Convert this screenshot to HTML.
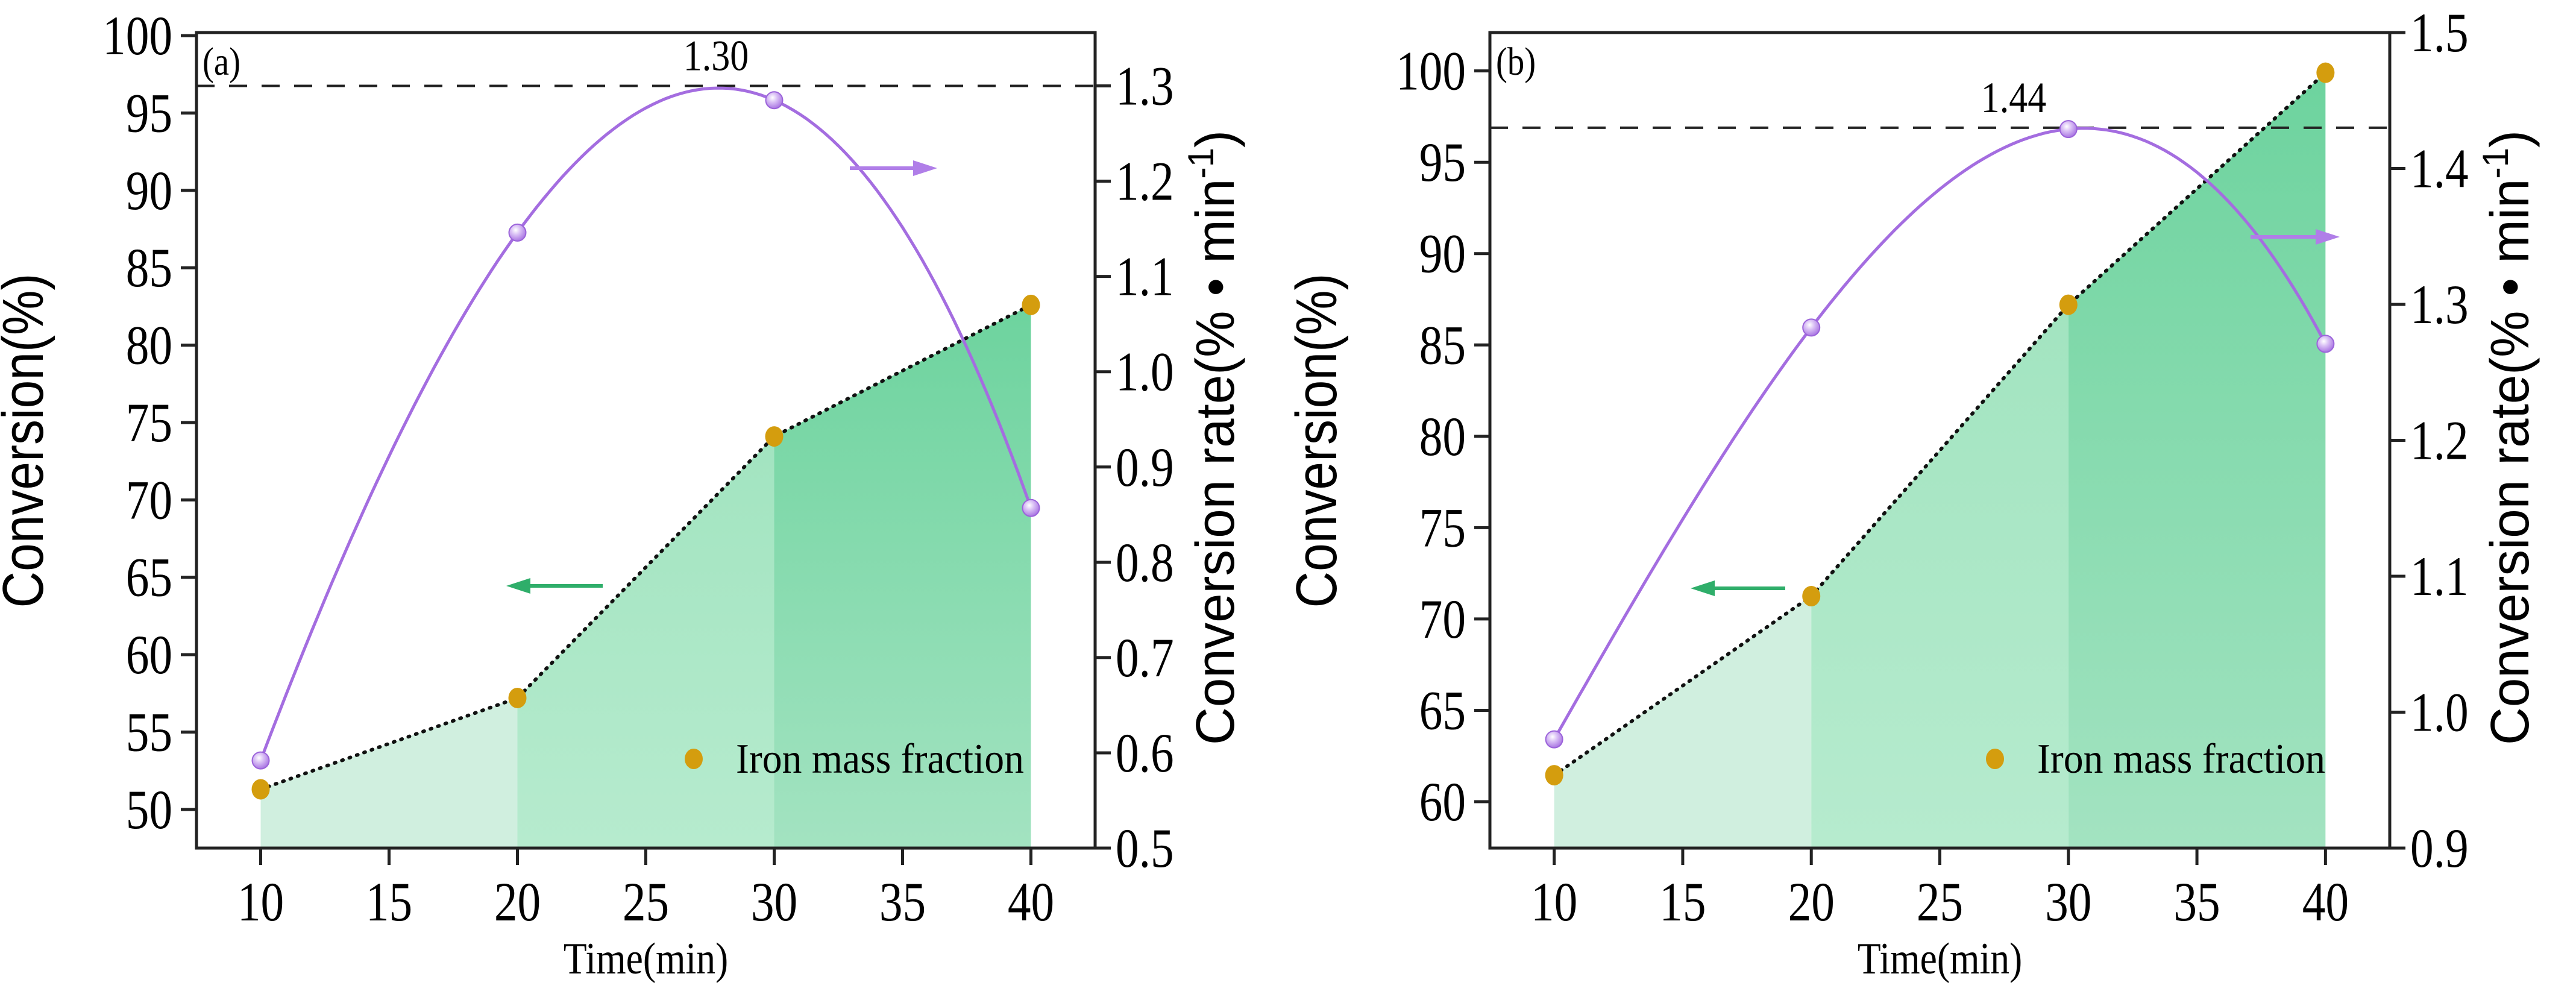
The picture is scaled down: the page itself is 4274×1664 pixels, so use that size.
<!DOCTYPE html>
<html><head><meta charset="utf-8"><style>
html,body{margin:0;padding:0;background:#fff;}
svg{display:block;}
.serif{font-family:"Liberation Serif",serif;}
.sans{font-family:"Liberation Sans",sans-serif;}
</style></head><body>
<svg id="fig" width="4274" height="1664" viewBox="0 0 4274 1664" xmlns="http://www.w3.org/2000/svg">
<defs>
<linearGradient id="g3" x1="0" y1="0" x2="0" y2="1"><stop offset="0" stop-color="#6dd39e"/><stop offset="1" stop-color="#a3e3c1"/></linearGradient>
<linearGradient id="g2" x1="0" y1="0" x2="0" y2="1"><stop offset="0" stop-color="#a2e4c0"/><stop offset="1" stop-color="#b6ebce"/></linearGradient>
<radialGradient id="sph" cx="0.4" cy="0.35" r="0.7"><stop offset="0" stop-color="#ffffff"/><stop offset="0.4" stop-color="#d9bff5"/><stop offset="1" stop-color="#a46de0"/></radialGradient>
</defs>
</svg>
<script>
const timeCats = [10, 20, 30, 40];
const xTicks = [10, 15, 20, 25, 30, 35, 40];
const convA = [51.3, 57.2, 74.1, 82.6];
const rateA = [0.592, 1.146, 1.285, 0.857];
const leftTicksA = [50, 55, 60, 65, 70, 75, 80, 85, 90, 95, 100];
const rightTicksA = ["0.5","0.6","0.7","0.8","0.9","1.0","1.1","1.2","1.3"];
const peakA = 1.30;
const peakLabelA = "1.30";
const convB = [61.45, 71.25, 87.2, 99.9];
const rateB = [0.98, 1.283, 1.429, 1.271];
const leftTicksB = [60, 65, 70, 75, 80, 85, 90, 95, 100];
const rightTicksB = ["0.9","1.0","1.1","1.2","1.3","1.4","1.5"];
const peakB = 1.43;
const peakLabelB = "1.44";

const NS = "http://www.w3.org/2000/svg";
const svg = document.getElementById('fig');
function mk(tag, attrs, parent, txt){
  const e = document.createElementNS(NS, tag);
  for (const k in attrs) e.setAttribute(k, attrs[k]);
  if (txt !== undefined) e.textContent = txt;
  (parent||svg).appendChild(e);
  return e;
}
function squeeze(el, f){
  const w = el.getComputedTextLength();
  if (w > 0){ el.setAttribute('textLength', (w*f).toFixed(1)); el.setAttribute('lengthAdjust','spacingAndGlyphs'); }
}
function lagrange(xs, ys, x){
  let s=0;
  for(let i=0;i<xs.length;i++){let p=ys[i];for(let j=0;j<xs.length;j++){if(j!==i)p*=(x-xs[j])/(xs[i]-xs[j]);}s+=p;}
  return s;
}
function panel(cfg){
  const g = mk('g', {});
  
  
  const L=cfg.left,R=cfg.right,T=54,B=1407;
  const sx = v => L + (v-7.5)/(42.5-7.5)*(R-L);
  const sy = v => B - (v-cfg.yMin)/(cfg.yMax-cfg.yMin)*(B-T);
  const sr = v => B - (v-cfg.rMin)/(cfg.rMax-cfg.rMin)*(B-T);
  const fills=['#d0efdf','url(#g2)','url(#g3)'];
  for(let i=0;i<timeCats.length-1;i++){
    const p = mk('polygon',{points:`${sx(timeCats[i])},${B} ${sx(timeCats[i])},${sy(cfg.conv[i])} ${sx(timeCats[i+1])},${sy(cfg.conv[i+1])} ${sx(timeCats[i+1])},${B}`,fill:fills[i]},g);
    
    
  }
  const dl = mk('polyline',{points:timeCats.map((t,i)=>`${sx(t)},${sy(cfg.conv[i])}`).join(' '),fill:'none',stroke:'#111','stroke-width':6,'stroke-dasharray':'2 11','stroke-linecap':'round'},g);
  
  
  const dh = mk('line',{x1:L,x2:R,y1:sr(cfg.peak),y2:sr(cfg.peak),stroke:'#222','stroke-width':4,'stroke-dasharray':'30 24'},g);
  
  
  let d='';
  for(let t=10;t<=40.001;t+=0.25){d+=(t===10?'M':'L')+sx(t).toFixed(1)+','+sr(lagrange(timeCats,cfg.rate,t)).toFixed(1);}
  const cv = mk('path',{d:d,fill:'none',stroke:'#a46de0','stroke-width':5},g);
  
  
  cfg.rate.forEach((r,i)=>{
    const c = mk('circle',{cx:sx(timeCats[i]),cy:sr(r),r:14,fill:'url(#sph)',stroke:'#9b63da','stroke-width':2},g);
    
    
  });
  cfg.conv.forEach((v,i)=>{
    const c = mk('ellipse',{cx:sx(timeCats[i]),cy:sy(v),rx:15,ry:17,fill:'#d49d0e'},g);
    
    
  });
  const box = mk('rect',{x:L,y:T,width:R-L,height:B-T,fill:'none',stroke:'#222','stroke-width':5},g);
  
  
  xTicks.forEach(t=>{
    mk('line',{x1:sx(t),x2:sx(t),y1:B,y2:B+28,stroke:'#222','stroke-width':5},g);
    const tx = mk('text',{x:sx(t),y:B+120,'text-anchor':'middle','font-size':92,class:'serif'},g,String(t));
    
    
    squeeze(tx,0.84);
  });
  cfg.leftTicks.forEach(t=>{
    mk('line',{x1:L-26,x2:L,y1:sy(t),y2:sy(t),stroke:'#222','stroke-width':5},g);
    const tx = mk('text',{x:L-40,y:sy(t)+31,'text-anchor':'end','font-size':92,class:'serif'},g,String(t));
    
    
    squeeze(tx,0.84);
  });
  cfg.rightTicks.forEach(t=>{
    const y=sr(parseFloat(t));
    mk('line',{x1:R,x2:R+26,y1:y,y2:y,stroke:'#222','stroke-width':5},g);
    const tx = mk('text',{x:R+34,y:y+31,'text-anchor':'start','font-size':92,class:'serif'},g,t);
    
    
    squeeze(tx,0.84);
  });
  const xt = mk('text',{x:(L+R)/2,y:1615,'text-anchor':'middle','font-size':74,class:'serif'},g,'Time(min)');
  
  
  squeeze(xt,0.86);
  const yl = mk('text',{x:0,y:0,transform:`translate(${L-255},731) rotate(-90)`,'text-anchor':'middle','font-size':96,class:'sans'},g,'Conversion(%)');
  
  
  yl.setAttribute('textLength','555');
  yl.setAttribute('lengthAdjust','spacingAndGlyphs');
  const yr = mk('text',{x:0,y:0,transform:`translate(${R+230},726) rotate(-90)`,'text-anchor':'middle','font-size':90,class:'sans'},g);
  
  
  mk('tspan',{},yr,'Conversion rate(% \u2022 min');
  mk('tspan',{dy:-34,'font-size':60},yr,'-1');
  mk('tspan',{dy:34},yr,')');
  yr.setAttribute('textLength','1020');
  yr.setAttribute('lengthAdjust','spacingAndGlyphs');
  const pl = mk('text',{x:L+10,y:T+70,'font-size':66,class:'serif'},g,cfg.tag);
  
  
  squeeze(pl,0.86);
  const pk = mk('text',{x:cfg.peakX,y:sr(cfg.peak)-26,'text-anchor':'middle','font-size':72,class:'serif'},g,cfg.peakLabel);
  
  
  squeeze(pk,0.86);
  const ag = mk('line',{x1:cfg.gArrow[0],x2:cfg.gArrow[1]+30,y1:cfg.gArrow[2],y2:cfg.gArrow[2],stroke:'#2fae6a','stroke-width':6},g);
  
  
  mk('polygon',{points:`${cfg.gArrow[1]},${cfg.gArrow[2]} ${cfg.gArrow[1]+40},${cfg.gArrow[2]-13} ${cfg.gArrow[1]+40},${cfg.gArrow[2]+13}`,fill:'#2fae6a'},g);
  const ap = mk('line',{x1:cfg.pArrow[0],x2:cfg.pArrow[1]-30,y1:cfg.pArrow[2],y2:cfg.pArrow[2],stroke:'#b07ee8','stroke-width':6},g);
  
  
  mk('polygon',{points:`${cfg.pArrow[1]},${cfg.pArrow[2]} ${cfg.pArrow[1]-40},${cfg.pArrow[2]-13} ${cfg.pArrow[1]-40},${cfg.pArrow[2]+13}`,fill:'#b07ee8'},g);
  const lg = mk('g',{},g);
  
  
  mk('ellipse',{cx:cfg.legX,cy:1259,rx:15,ry:17,fill:'#d49d0e'},lg);
  const lt = mk('text',{x:cfg.legX+70,y:1282,'font-size':70,class:'serif'},lg,'Iron mass fraction');
  lt.setAttribute('textLength','478');
  lt.setAttribute('lengthAdjust','spacingAndGlyphs');
}
panel({name:'panel-a',tag:'(a)',left:326,right:1817,yMin:47.5,yMax:100.2,rMin:0.5,rMax:1.356,conv:convA,rate:rateA,leftTicks:leftTicksA,rightTicks:rightTicksA,peak:peakA,peakLabel:peakLabelA,peakX:1188,gArrow:[1000,840,972],pArrow:[1410,1555,279],legX:1151});
panel({name:'panel-b',tag:'(b)',left:2472,right:3965,yMin:57.46,yMax:102.1,rMin:0.9,rMax:1.5,conv:convB,rate:rateB,leftTicks:leftTicksB,rightTicks:rightTicksB,peak:peakB,peakLabel:peakLabelB,peakX:3341,gArrow:[2962,2805,976],pArrow:[3734,3882,393],legX:3310});
</script>
</body></html>
